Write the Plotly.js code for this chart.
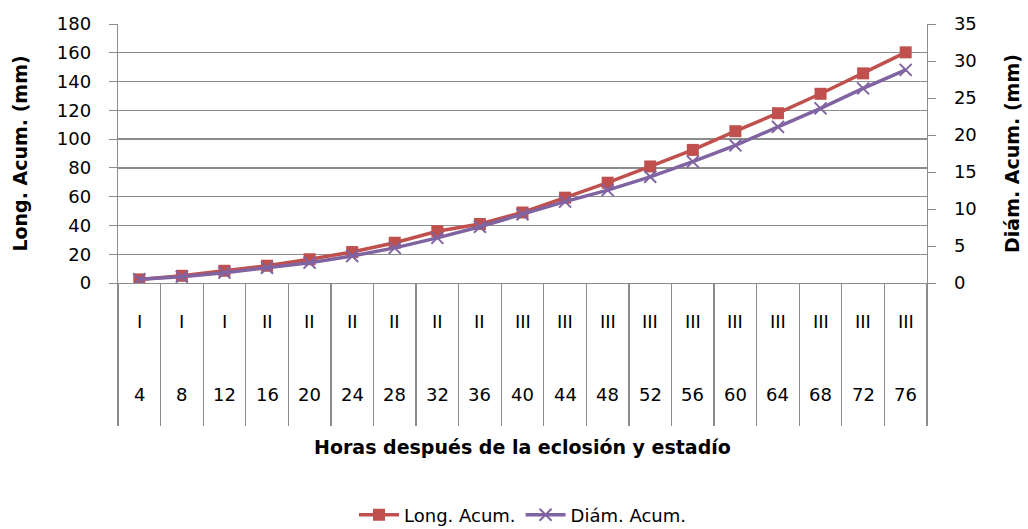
<!DOCTYPE html>
<html>
<head>
<meta charset="utf-8">
<script src="https://cdn.plot.ly/plotly-3.0.1.min.js"></script>
<style>html,body{margin:0;padding:0;background:#fff;}#chart{width:1028px;height:529px;}</style>
</head>
<body>
<div id="chart"></div>
<script>
const hours = ["4","8","12","16","20","24","28","32","36","40","44","48","52","56","60","64","68","72","76"];
const stages = ["I","I","I","II","II","II","II","II","II","III","III","III","III","III","III","III","III","III","III"];
const longAcum = [2.5, 5, 8.5, 12, 16.5, 21.5, 28, 36, 41, 49, 59.3, 69.7, 81, 92.5, 105.5, 118, 131.5, 145.7, 160.3];
const diamAcum = [0.5, 0.85, 1.4, 2.05, 2.75, 3.65, 4.75, 6.1, 7.6, 9.3, 11.0, 12.55, 14.35, 16.4, 18.6, 21.1, 23.6, 26.3, 28.8];

const FONT = "DejaVu Sans";
const fs = 18;
const tfs = 19;
const gray = "#8c8c8c";

const traces = [
  {
    x: hours, y: longAcum, name: "Long. Acum.", type: "scatter", mode: "lines+markers",
    line: {color: "#c0504d", width: 3.5},
    marker: {symbol: "square", size: 12, color: "#c0504d"},
    yaxis: "y"
  },
  {
    x: hours, y: diamAcum, name: "Diám. Acum.", type: "scatter", mode: "lines+markers",
    line: {color: "#8064a2", width: 3.5},
    marker: {symbol: "x-thin", size: 12, color: "#8064a2", line: {color: "#8064a2", width: 2}},
    yaxis: "y2"
  }
];

const annotations = [];
hours.forEach((h, i) => {
  annotations.push({x: i, xref: "x", y: -0.150, yref: "paper", text: stages[i], showarrow: false,
    font: {family: FONT, size: fs, color: "#000"}, xanchor: "center", yanchor: "middle"});
  annotations.push({x: i, xref: "x", y: -0.432, yref: "paper", text: h, showarrow: false,
    font: {family: FONT, size: fs, color: "#000"}, xanchor: "center", yanchor: "middle"});
});
annotations.push({x: 0.5, xref: "paper", y: -0.633, yref: "paper", text: "<b>Horas después de la eclosión y estadío</b>",
  showarrow: false, font: {family: FONT, size: tfs, color: "#000"}, xanchor: "center", yanchor: "middle"});

const layout = {
  width: 1028, height: 529,
  margin: {l: 118, r: 101, t: 24, b: 246, autoexpand: false},
  paper_bgcolor: "#fff", plot_bgcolor: "#fff",
  font: {family: FONT, size: fs, color: "#000"},
  showlegend: true,
  legend: {orientation: "h", x: 0.5, xanchor: "center", y: -0.896, yanchor: "middle",
    font: {family: FONT, size: fs, color: "#000"}, itemwidth: 40, tracegroupgap: 0},
  xaxis: {
    type: "category", range: [-0.5, 18.5], showticklabels: false,
    tickson: "boundaries", ticks: "outside", ticklen: 142, tickcolor: gray, tickwidth: 1.3,
    showgrid: false, showline: true, linecolor: gray, linewidth: 1.3, zeroline: false, fixedrange: true
  },
  yaxis: {
    range: [0, 180], dtick: 20, tick0: 0, showgrid: true, gridcolor: gray, gridwidth: 1.3,
    showline: true, linecolor: gray, linewidth: 1.3, ticks: "outside", ticklen: 8, tickcolor: gray,
    zeroline: false, ticklabelstandoff: 14,
    title: {text: "<b>Long. Acum. (mm)</b>", font: {family: FONT, size: tfs, color: "#000"}, standoff: 24},
    tickfont: {family: FONT, size: fs, color: "#000"}
  },
  yaxis2: {
    range: [0, 35], dtick: 5, tick0: 0, overlaying: "y", side: "right", showgrid: false,
    showline: true, linecolor: gray, linewidth: 1.3, ticks: "outside", ticklen: 8, tickcolor: gray,
    zeroline: false, ticklabelstandoff: 14,
    title: {text: "<b>Diám. Acum. (mm)</b>", font: {family: FONT, size: tfs, color: "#000"}, standoff: 30},
    tickfont: {family: FONT, size: fs, color: "#000"}
  },
  annotations: annotations
};

Plotly.newPlot("chart", traces, layout, {displayModeBar: false, staticPlot: true});
</script>
</body>
</html>
